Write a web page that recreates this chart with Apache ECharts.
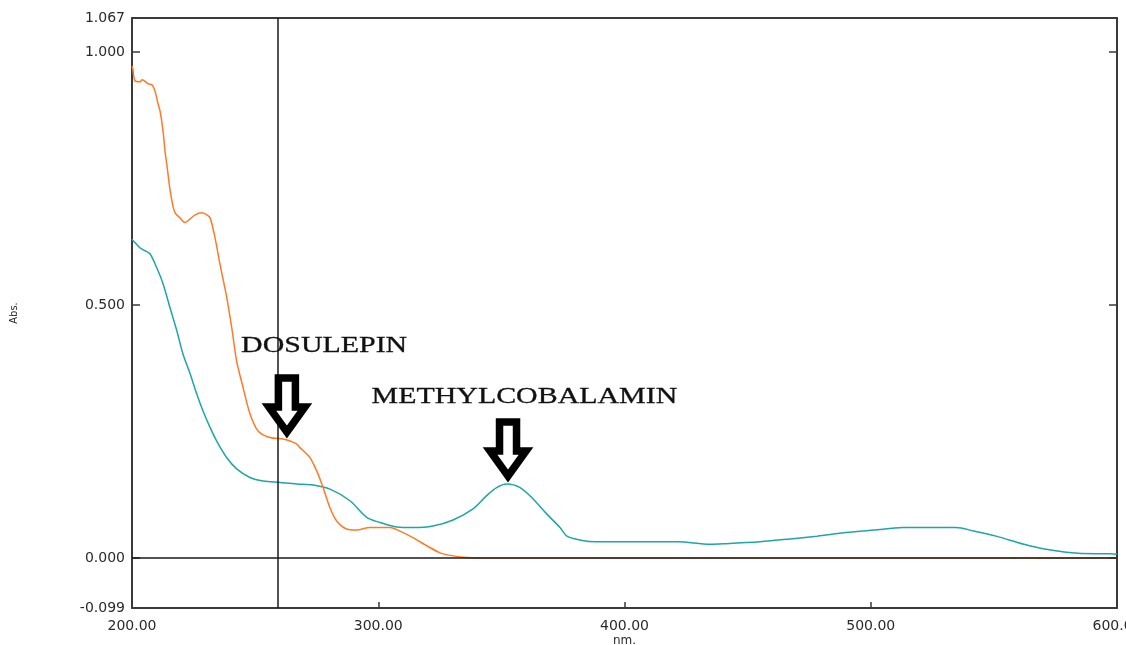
<!DOCTYPE html>
<html>
<head>
<meta charset="utf-8">
<script src="https://cdn.jsdelivr.net/npm/echarts@6/dist/echarts.min.js"></script>
<style>html,body{margin:0;padding:0;background:#fff;}#c{width:1126px;height:645px;}</style>
</head>
<body>
<div id="c"></div>
<script>
// Wavelengths (nm) and absorbance values
var dosulepinX = [200.0,200.3,201.2,203.2,204.1,206.5,208.1,209.3,210.6,211.4,212.6,213.4,214.2,215.4,216.6,217.5,219.5,221.5,223.6,225.6,228.3,230.1,231.7,233.7,235.7,238.5,240.5,242.5,245.1,247.9,251.2,256.0,261.3,264.2,266.9,268.2,270.9,272.3,275.0,277.6,280.4,283.1,287.2,291.2,296.6,304.8,308.8,314.1,319.7,325.1,330.4,335.9,346.6,400,500,600];
var dosulepinY = [0.972,0.967,0.943,0.941,0.945,0.937,0.935,0.923,0.897,0.883,0.844,0.804,0.775,0.729,0.696,0.682,0.672,0.663,0.670,0.678,0.682,0.679,0.672,0.633,0.581,0.514,0.455,0.389,0.337,0.285,0.251,0.238,0.235,0.231,0.225,0.218,0.206,0.198,0.172,0.139,0.099,0.073,0.057,0.055,0.060,0.060,0.053,0.040,0.024,0.010,0.004,0.001,0.000,0.000,0.000,0.000];
var methylX = [200.0,200.5,203.2,205.3,207.3,210.0,212.6,215.4,218.2,220.7,223.6,226.3,228.8,231.7,234.4,238.5,242.5,247.9,253.2,260.1,266.9,273.5,280.4,288.5,295.3,300.7,307.5,314.1,322.2,330.4,338.5,344.0,348.1,352.2,357.6,362.8,368.4,373.8,376.6,382.3,388.4,421.7,434.7,440.4,455.0,466.4,478.2,490.0,501.3,513.1,534.6,541.9,550.9,562.2,571.2,584.2,597.2,600.0];
var methylY = [0.630,0.627,0.613,0.607,0.601,0.574,0.542,0.495,0.449,0.403,0.364,0.324,0.291,0.258,0.231,0.198,0.176,0.159,0.152,0.149,0.146,0.144,0.136,0.113,0.080,0.070,0.061,0.060,0.063,0.075,0.097,0.123,0.139,0.146,0.139,0.117,0.087,0.060,0.043,0.035,0.032,0.032,0.027,0.028,0.032,0.037,0.043,0.050,0.055,0.060,0.060,0.053,0.043,0.027,0.017,0.009,0.008,0.007];
var yLabelValues = [-0.099, 0, 0.5, 1.0, 1.067];
var yTickValues = [0, 0.5, 1.0];
var xMin = 200, xMax = 600, xInterval = 100;
var yMin = -0.099, yMax = 1.067;
var cursorX = 259.2;
var xTitle = 'nm.', yTitle = 'Abs.';
// annotation anchors [nm, abs]
var annotations = [
  {text: 'DOSULEPIN', textAt: [244.3, 0.418], arrowTip: [262.9, 0.235]},
  {text: 'METHYLCOBALAMIN', textAt: [297.3, 0.319], arrowTip: [352.7, 0.148]}
];

function pairs(xs, ys) { return xs.map(function (x, i) { return [x, ys[i]]; }); }

var chart = echarts.init(document.getElementById('c'), null, {renderer: 'canvas'});
var lblFont = {fontFamily: '"DejaVu Sans", sans-serif', fontSize: 14, color: '#2a2a2a'};
var frame = {show: true, onZero: false, lineStyle: {color: '#3a3a3a', width: 2}};

chart.setOption({
  animation: false,
  backgroundColor: '#fff',
  grid: {left: 132, right: 9, top: 18, bottom: 37, containLabel: false, outerBoundsMode: 'none'},
  xAxis: [{
    type: 'value', min: xMin, max: xMax, interval: xInterval, position: 'bottom',
    axisLine: frame,
    axisTick: {show: true, inside: true, length: 6, lineStyle: {color: '#3a3a3a', width: 1.5}},
    axisLabel: Object.assign({margin: 11, formatter: function (v) { return v.toFixed(2); }}, lblFont),
    splitLine: {show: false}
  }, {
    type: 'value', min: xMin, max: xMax, position: 'top',
    axisLine: frame, axisTick: {show: false}, axisLabel: {show: false}, splitLine: {show: false}
  }],
  yAxis: [{
    type: 'value', min: yMin, max: yMax, position: 'left',
    axisLine: frame,
    axisTick: {show: true, inside: true, length: 8, customValues: yTickValues, lineStyle: {color: '#3a3a3a', width: 1.5}},
    axisLabel: Object.assign({margin: 7, customValues: yLabelValues, formatter: function (v) { return v.toFixed(3); }}, lblFont),
    splitLine: {show: false},
    name: yTitle, nameLocation: 'middle', nameGap: 113, nameRotate: 90, nameMoveOverlap: false,
    nameTextStyle: {fontFamily: '"DejaVu Sans", sans-serif', fontSize: 10, color: '#2a2a2a'}
  }, {
    type: 'value', min: yMin, max: yMax, position: 'right',
    axisLine: frame,
    axisTick: {show: true, inside: true, length: 8, customValues: yTickValues, lineStyle: {color: '#3a3a3a', width: 1.5}},
    axisLabel: {show: false}, splitLine: {show: false}
  }],
  series: [{
    name: 'Methylcobalamin', type: 'line', data: pairs(methylX, methylY),
    symbol: 'none', smooth: 0.3, lineStyle: {color: '#1ea5a5', width: 1.5}, z: 3
  }, {
    name: 'Dosulepin', type: 'line', data: pairs(dosulepinX, dosulepinY),
    symbol: 'none', smooth: 0.3, lineStyle: {color: '#ff7a26', width: 1.5}, z: 4,
    markLine: {
      silent: true, symbol: 'none', label: {show: false},
      lineStyle: {color: '#1a1a1a', width: 1.5, type: 'solid'},
      data: [{yAxis: 0}, {xAxis: cursorX}]
    }
  }]
});

function arrowPoints(tx, ty) {
  var sh = 8.5, top = -61, base = -32, hh = 18, tip = -7;
  return [[tx - sh, ty + top], [tx + sh, ty + top], [tx + sh, ty + base], [tx + hh, ty + base],
          [tx, ty + tip], [tx - hh, ty + base], [tx - sh, ty + base]];
}
var graphics = [];
annotations.forEach(function (a) {
  var tp = chart.convertToPixel({gridIndex: 0}, a.textAt);
  var ap = chart.convertToPixel({gridIndex: 0}, a.arrowTip);
  graphics.push({
    type: 'text', x: tp[0], y: tp[1], scaleX: 1.3, z: 10,
    style: {text: a.text, x: 0, y: 0, align: 'left', verticalAlign: 'middle',
            font: '23px "Liberation Serif", "Times New Roman", serif', fill: '#111',
            stroke: '#111', lineWidth: 0.3}
  });
  graphics.push({
    type: 'polygon', z: 10,
    shape: {points: arrowPoints(ap[0], ap[1])},
    style: {fill: '#fff', stroke: '#000', lineWidth: 7.5, lineJoin: 'miter'}
  });
});
var nmPos = chart.convertToPixel({gridIndex: 0}, [(xMin + xMax) / 2, yMin]);
graphics.push({
  type: 'text', x: nmPos[0], y: nmPos[1] + 33, z: 10,
  style: {text: xTitle, x: 0, y: 0, align: 'center', verticalAlign: 'middle',
          font: '12px "DejaVu Sans", sans-serif', fill: '#2a2a2a'}
});
chart.setOption({graphic: graphics});
</script>
</body>
</html>
